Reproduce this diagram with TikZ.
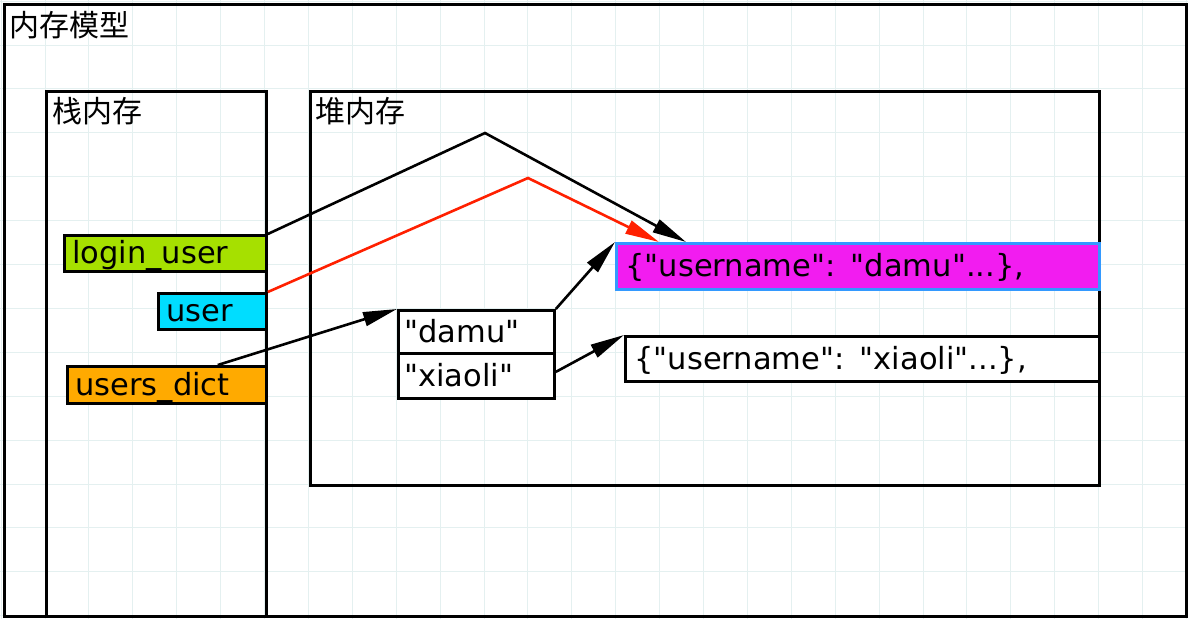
\documentclass[tikz,border=0pt]{standalone}
\usepackage{fontspec}
\newfontfamily\lat{DejaVu Sans}
\newfontfamily\cjk{Noto Sans CJK SC}
\usetikzlibrary{arrows.meta}
\definecolor{gridc}{HTML}{E4F0F0}
\definecolor{cgreen}{HTML}{A6E000}
\definecolor{ccyan}{HTML}{00DDFF}
\definecolor{corange}{HTML}{FFAA00}
\definecolor{cmag}{HTML}{F21CF0}
\definecolor{cblue}{HTML}{3399FF}
\definecolor{cred}{HTML}{FF2000}
\begin{document}
\begin{tikzpicture}[x=1pt,y=-1pt,
  region/.style={draw=black,line width=3.2pt,anchor=north west,inner sep=0pt},
  cell/.style n args={3}{draw=black,line width=2.8pt,minimum width=#1,minimum height=#2,
    text width=#3,inner xsep=8pt,inner ysep=0pt,align=left,anchor=north west,
    text height=25pt,text depth=4pt,
    font=\lat\fontsize{30.5}{32}\selectfont},
  title/.style={anchor=west,inner sep=0pt,font=\cjk\fontsize{30}{32}\selectfont},
  arr/.style={line width=2.6pt,-{Triangle[length=34pt,width=14pt]}}]
\useasboundingbox (0,0) rectangle (1188,619);
\fill[white] (0,0) rectangle (1188,619);
\foreach \i in {0,...,27} \draw[gridc,line width=1pt] (1.1+43.9*\i,0) -- ++(0,619);
\foreach \i in {0,...,14} \draw[gridc,line width=1pt] (0,1.1+43.9*\i) -- ++(1188,0);
% regions
\node[region,minimum width=1182pt,minimum height=612pt] (outer) at (3,3) {};
\node[region,minimum width=220pt,minimum height=525pt] (stack) at (45,90) {};
\node[region,minimum width=789pt,minimum height=394pt] (heap) at (309,90) {};
\node[title] (t0) at (9,25) {内存模型};
\node[title] (t1) at (52,111) {栈内存};
\node[title] (t2) at (315,111) {堆内存};
% stack variables
\node[cell={202pt}{36pt}{186pt},fill=cgreen] (login) at (63,234) {login\_user};
\node[cell={108pt}{36pt}{92pt},fill=ccyan] (user) at (157,292) {user};
\node[cell={199pt}{37pt}{183pt},fill=corange] (dict) at (66,365) {users\_dict};
% dict keys
\node[cell={156pt}{43pt}{140pt},fill=white,inner xsep=6pt,text width=144pt] (damu) at (397,309) {"damu"};
\node[cell={156pt}{45pt}{140pt},fill=white,inner xsep=6pt,text width=144pt] (xiaoli) at (397,352) {"xiaoli"};
% values
\node[cell={483pt}{46pt}{465pt},fill=cmag,draw=cblue,inner xsep=9pt] (mag) at (615,242) {\{"username": "damu"...\},};
\node[cell={474pt}{45pt}{456pt},fill=white,inner xsep=9pt] (xdict) at (624,335) {\{"username": "xiaoli"...\},};
% connectors
\draw[arr] (login.north east) -- (485,133) -- ([xshift=71pt]mag.north west);
\draw[arr,cred] (user.north east) -- (528,178) -- ([xshift=44pt]mag.north west);
\draw[arr] ([xshift=-50pt]dict.north east) -- (damu.north west);
\draw[arr] (damu.north east) -- (mag.north west);
\draw[arr] ([yshift=4pt]xiaoli.east) -- (xdict.north west);
\end{tikzpicture}
\end{document}
